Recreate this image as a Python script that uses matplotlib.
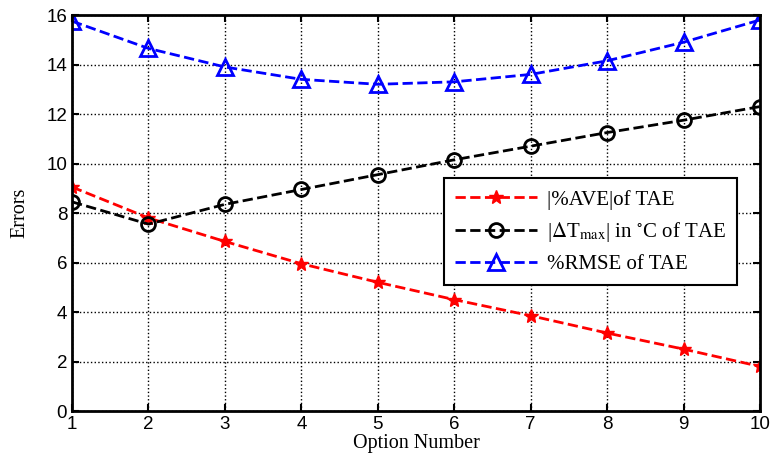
import matplotlib
matplotlib.use("Agg")
import matplotlib.pyplot as plt

# ---------------- Data ----------------
options = [1, 2, 3, 4, 5, 6, 7, 8, 9, 10]
ave_tae = [9.05, 7.8, 6.85, 5.95, 5.2, 4.5, 3.85, 3.15, 2.5, 1.8]
dtmax_tae = [8.45, 7.55, 8.35, 8.95, 9.55, 10.15, 10.7, 11.25, 11.75, 12.3]
rmse_tae = [15.75, 14.65, 13.9, 13.4, 13.2, 13.3, 13.6, 14.15, 14.9, 15.8]

plt.rcParams['mathtext.fontset'] = 'stix'

fig = plt.figure(figsize=(7.72, 4.63), dpi=100)
ax = fig.add_axes([0.0933, 0.1123, 0.8912, 0.8553])

ax.plot(options, ave_tae, color='red', linestyle='--', linewidth=2,
        marker='*', markersize=10, label='|%AVE|of TAE')
ax.plot(options, dtmax_tae, color='black', linestyle='--', linewidth=2,
        marker='o', markersize=10, markerfacecolor='none', markeredgewidth=2,
        label=r'|$\Delta$T$_{\mathrm{max}}$| in $^{\circ}$C of TAE')
ax.plot(options, rmse_tae, color='blue', linestyle='--', linewidth=2,
        marker='^', markersize=12, markerfacecolor='none', markeredgewidth=2,
        label='%RMSE of TAE')

ax.set_xlim(1, 10)
ax.set_ylim(0, 16)
ax.set_xticks(options)
ax.set_yticks(range(0, 17, 2))
ax.grid(True, color='black', linestyle=':', linewidth=1)
ax.tick_params(direction='in', length=5, width=1.5, labelsize=13.5,
               top=True, right=True)
for lbl in ax.get_xticklabels() + ax.get_yticklabels():
    lbl.set_family('Liberation Sans')
for s in ax.spines.values():
    s.set_linewidth(2)

ax.set_xlabel('Option Number', family='Liberation Serif', fontsize=14.5, labelpad=1)
ax.set_ylabel('Errors', family='Liberation Serif', fontsize=14.5, labelpad=12)

leg = ax.legend(loc='upper right', bbox_to_anchor=(0.967, 0.588),
                borderaxespad=0,
                prop={'family': 'Liberation Serif', 'size': 15},
                fancybox=False, framealpha=1, edgecolor='black',
                handlelength=3.9, handletextpad=0.5, borderpad=0.55,
                labelspacing=0.5)
leg.get_frame().set_linewidth(1.5)

fig.savefig('out.png', dpi=100)
